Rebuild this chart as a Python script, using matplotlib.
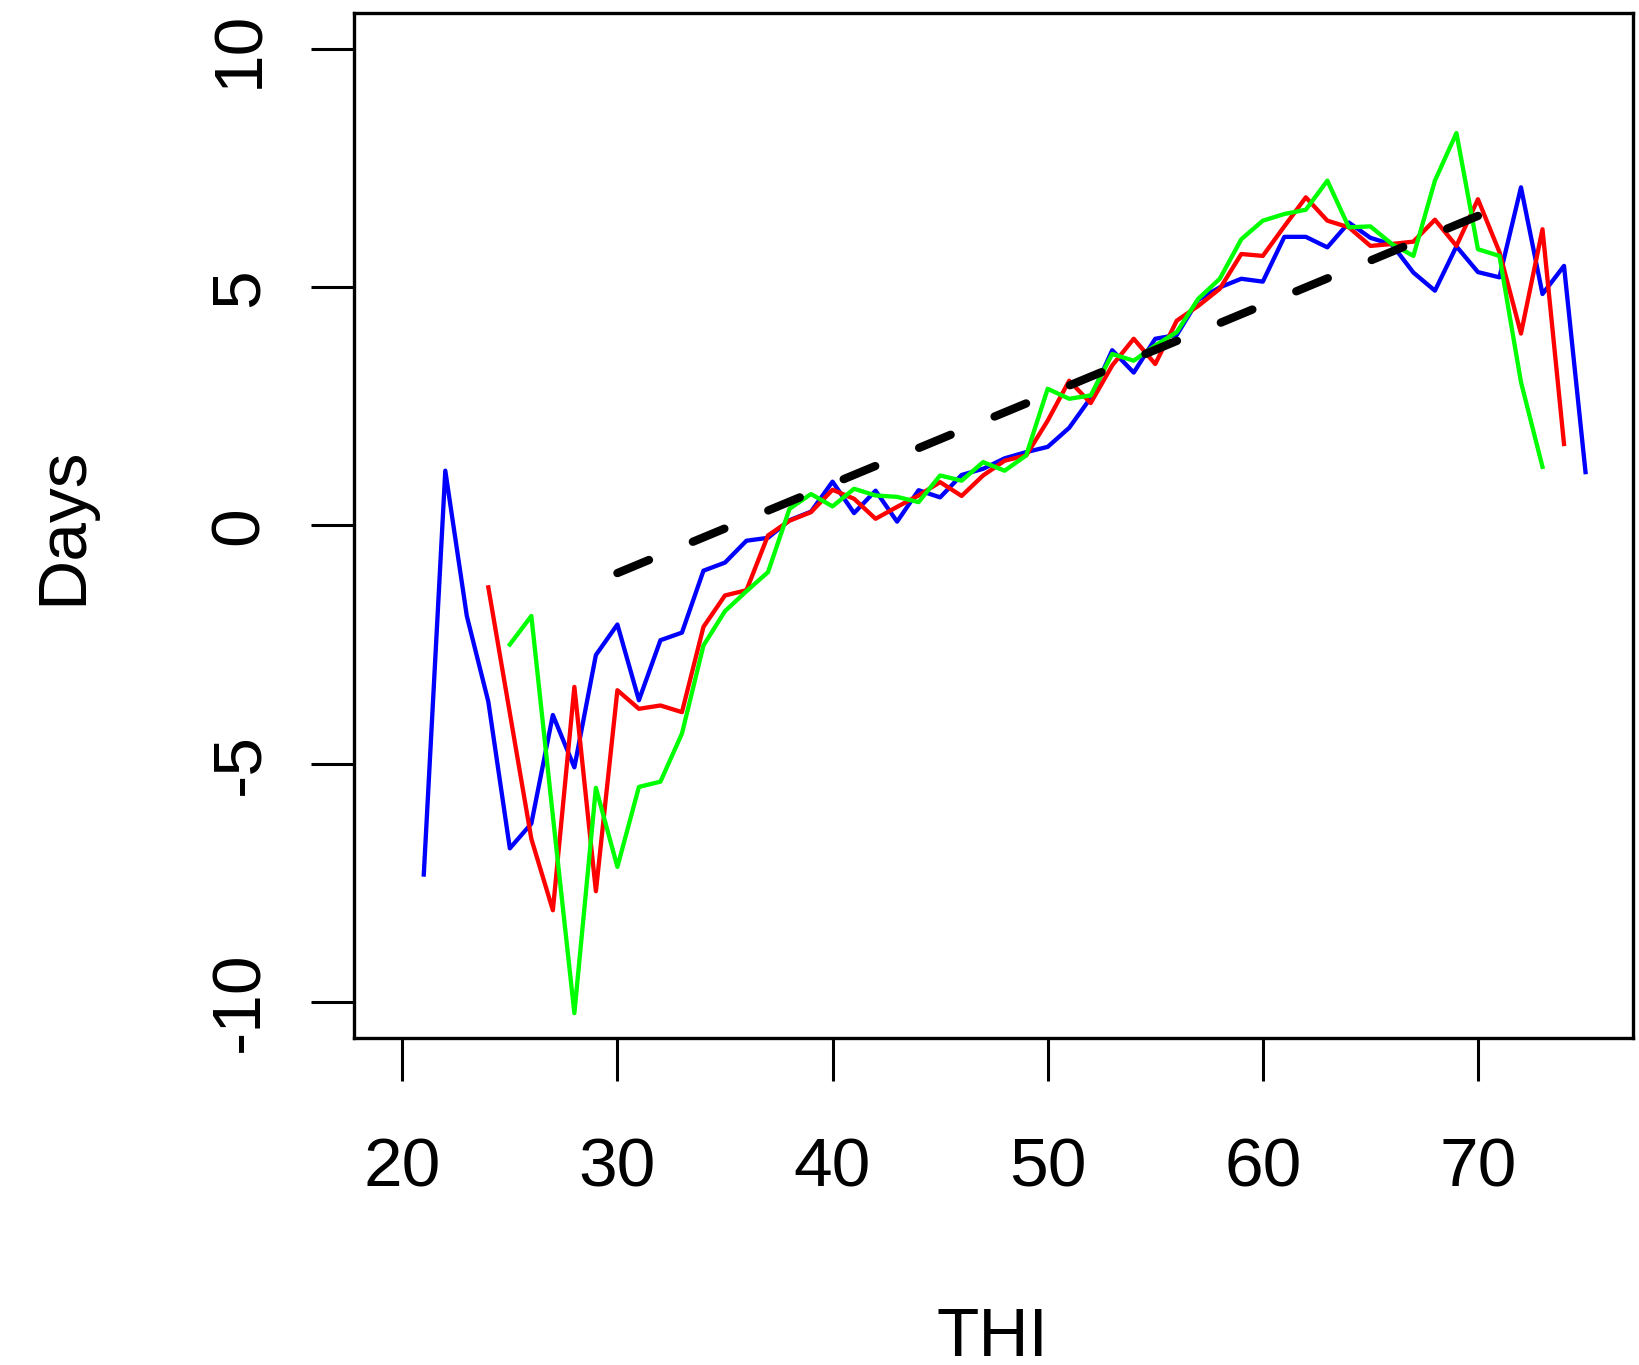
import numpy as np
import matplotlib
matplotlib.use("Agg")
import matplotlib.pyplot as plt

plt.rcParams['font.family'] = ['Liberation Sans', 'DejaVu Sans']

# THI values for each series
thi_blue = np.arange(21, 76)
thi_red = np.arange(24, 75)
thi_green = np.arange(25, 74)

days_blue = [-7.33, 1.15, -1.90, -3.70, -6.78, -6.26, -3.98, -5.08, -2.72, -2.08,
             -3.67, -2.41, -2.25, -0.95, -0.78, -0.32, -0.26, 0.11, 0.29, 0.92,
             0.26, 0.73, 0.08, 0.74, 0.59, 1.06, 1.19, 1.41, 1.54, 1.65,
             2.05, 2.68, 3.68, 3.21, 3.92, 4.00, 4.74, 5.00, 5.18, 5.12,
             6.06, 6.06, 5.84, 6.36, 6.04, 5.90, 5.31, 4.93, 5.86, 5.32,
             5.21, 7.10, 4.86, 5.45, 1.12]

days_red = [-1.30, -3.94, -6.58, -8.08, -3.39, -7.68, -3.46, -3.85, -3.78, -3.92,
            -2.13, -1.47, -1.36, -0.21, 0.10, 0.28, 0.75, 0.56, 0.14, 0.39,
            0.63, 0.91, 0.62, 1.05, 1.36, 1.47, 2.20, 3.04, 2.57, 3.36,
            3.92, 3.39, 4.30, 4.61, 4.97, 5.70, 5.66, 6.28, 6.89, 6.40,
            6.26, 5.87, 5.91, 5.96, 6.42, 5.87, 6.85, 5.74, 4.03, 6.22,
            1.71]

days_green = [-2.50, -1.90, -6.10, -10.24, -5.51, -7.17, -5.49, -5.38, -4.37, -2.52,
              -1.80, -1.38, -0.98, 0.35, 0.66, 0.40, 0.77, 0.63, 0.60, 0.49,
              1.05, 0.94, 1.33, 1.15, 1.47, 2.87, 2.66, 2.73, 3.60, 3.46,
              3.78, 4.06, 4.76, 5.18, 6.01, 6.40, 6.54, 6.63, 7.24, 6.26,
              6.28, 5.91, 5.66, 7.24, 8.24, 5.80, 5.66, 3.01, 1.23]

# linear trend (dashed)
trend_x = [30, 70]
trend_y = [-1.0, 6.5]

x_ticks = [20, 30, 40, 50, 60, 70]
y_ticks = [-10, -5, 0, 5, 10]

fig = plt.figure(figsize=(16.4, 13.65), dpi=100)
ax = fig.add_axes([0.2159, 0.2393, 0.7800, 0.7515])

lw = 3.1
ax.plot(thi_blue, days_blue, color='#0000ff', lw=lw, solid_joinstyle='round')
ax.plot(thi_red, days_red, color='#ff0000', lw=lw, solid_joinstyle='round')
ax.plot(thi_green, days_green, color='#00ff00', lw=lw, solid_joinstyle='round')
ax.plot(trend_x, trend_y, color='black', lw=6.0, ls=(0, (4.1, 5.7)),
        dash_capstyle='round')

ax.set_xlim(17.76, 77.22)
ax.set_ylim(-10.77, 10.77)
ax.set_xticks(x_ticks)
ax.set_yticks(y_ticks)
ax.set_yticklabels([str(v) for v in y_ticks], rotation=90, va='center')

ax.tick_params(axis='both', direction='out', length=31, width=2.2,
               labelsize=50, color='black')
ax.tick_params(axis='x', pad=40)
ax.tick_params(axis='y', pad=28)
for s in ax.spines.values():
    s.set_linewidth(2.4)

fig.text(63 / 1640, 0.6147, 'Days', rotation=90, fontsize=50,
         ha='center', va='center')
fig.text(992 / 1640, 9 / 1365, 'THI', fontsize=50, ha='center', va='baseline')

fig.savefig('out.png', dpi=100)
